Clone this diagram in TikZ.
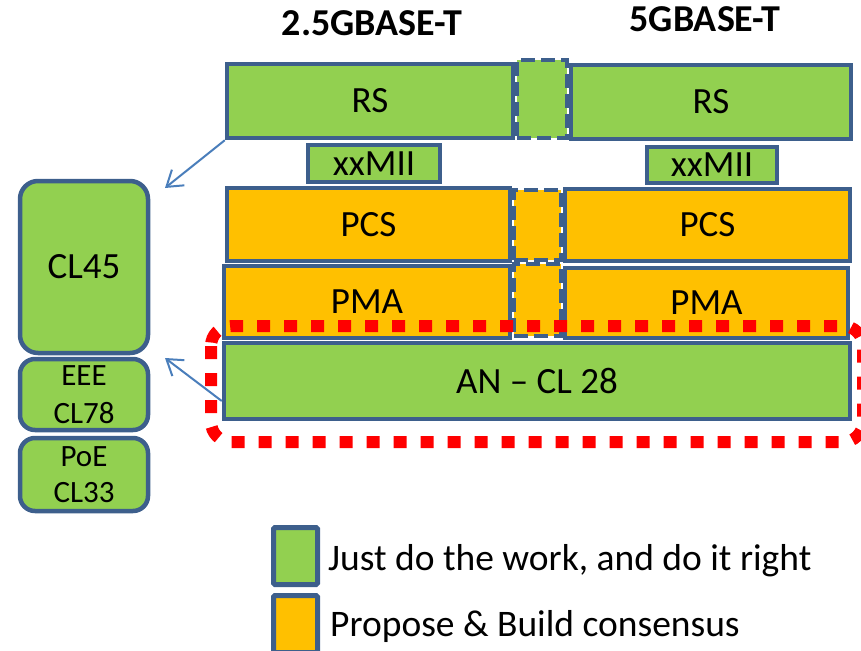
\documentclass[tikz,border=0pt]{standalone}
\usepackage{fontspec}
\setmainfont{Carlito}
\usetikzlibrary{arrows.meta}
\definecolor{gfill}{HTML}{92D050}
\definecolor{ofill}{HTML}{FFC000}
\definecolor{bordc}{HTML}{3D5F8C}
\definecolor{arrc}{HTML}{4A7EBB}
\definecolor{redc}{HTML}{FF0000}
\tikzset{
  box/.style={draw=bordc, line width=4.5pt, inner sep=0pt, font=\fontsize{37}{40}\selectfont},
  gbox/.style={box, fill=gfill},
  obox/.style={box, fill=ofill},
  dbox/.style={draw=bordc, line width=4pt, dash pattern=on 14pt off 6pt, inner sep=0pt},
  sbox/.style={gbox, rounded corners=18pt, minimum width=128pt},
  smalltext/.style={align=center, font=\fontsize{31}{38}\selectfont},
  legbox/.style={draw=bordc, line width=5pt, rounded corners=1.5pt, inner sep=0pt, minimum width=44pt, minimum height=57pt},
  legtext/.style={anchor=base west, inner sep=0pt, font=\fontsize{37.5}{40}\selectfont},
  title/.style={anchor=base, inner sep=0pt, font=\fontsize{38}{40}\selectfont\bfseries},
  conn/.style={draw=arrc, line width=2pt, -{Straight Barb[length=15pt,width=20pt,line width=2pt]}},
  redline/.style={draw=redc, line width=12pt, dash pattern=on 13pt off 14pt, rounded corners=20pt}
}
\begin{document}
\begin{tikzpicture}[x=1pt, y=-1pt]
\useasboundingbox (0,0) rectangle (861,650);
% titles
\node[title] (t1) at (372,36) {2.5GBASE-T};
\node[title] (t2) at (705,32) {5GBASE-T};
% RS row
\node[gbox, minimum width=286pt, minimum height=74pt] (rsL) at (370,101) {RS};
\node[gbox, minimum width=280pt, minimum height=74pt] (rsR) at (711,102) {RS};
\node[dbox, fill=gfill, minimum width=50pt, minimum height=78pt] (rsD) at (542,99) {};
% xxMII
\node[gbox, minimum width=132pt, minimum height=37pt] (xxL) at (374,163.5) {xxMII};
\node[gbox, minimum width=130pt, minimum height=36pt] (xxR) at (712,165) {xxMII};
% PCS
\node[obox, minimum width=283pt, minimum height=73pt] (pcsL) at (368.5,224.5) {PCS};
\node[obox, minimum width=285pt, minimum height=72pt] (pcsR) at (707.5,225) {PCS};
\node[dbox, fill=ofill, minimum width=47pt, minimum height=70pt] (pcsD) at (537.5,225) {};
% PMA
\node[obox, minimum width=286pt, minimum height=72pt] (pmaL) at (367,302) {PMA};
\node[obox, minimum width=283pt, minimum height=70pt] (pmaR) at (706.5,303) {PMA};
\node[dbox, fill=ofill, minimum width=47pt, minimum height=72pt] (pmaD) at (537.5,300) {};
% AN
\node[gbox, minimum width=626pt, minimum height=76pt] (an) at (537,381) {AN -- CL 28};
% left column
\node[sbox, minimum height=172pt, font=\fontsize{37}{40}\selectfont] (cl45) at (84,267) {CL45};
\node[sbox, rounded corners=15pt, minimum height=71pt, smalltext] (eee) at (84,394.5) {EEE\\CL78};
\node[sbox, rounded corners=15pt, minimum height=73pt, smalltext, font=\fontsize{31}{36}\selectfont] (poe) at (84,474.5) {PoE\\CL33};
% arrows
\coordinate (tip1) at (165,188);
\coordinate (tip2) at (165,358);
\draw[conn] (rsL.south west) -- (tip1);
\draw[conn] ([yshift=-20pt]an.west) -- (tip2);
% red dotted outline
\draw[redline] (211,326) rectangle (863,442);
% legend
\node[legbox, fill=gfill] (lg) at (295.5,556) {};
\node[legbox, fill=ofill] (lo) at (295.5,624) {};
\node[legtext] (lgt) at (328,570) {Just do the work, and do it right};
\node[legtext] (lot) at (330,636) {Propose \& Build consensus};
\end{tikzpicture}
\end{document}
